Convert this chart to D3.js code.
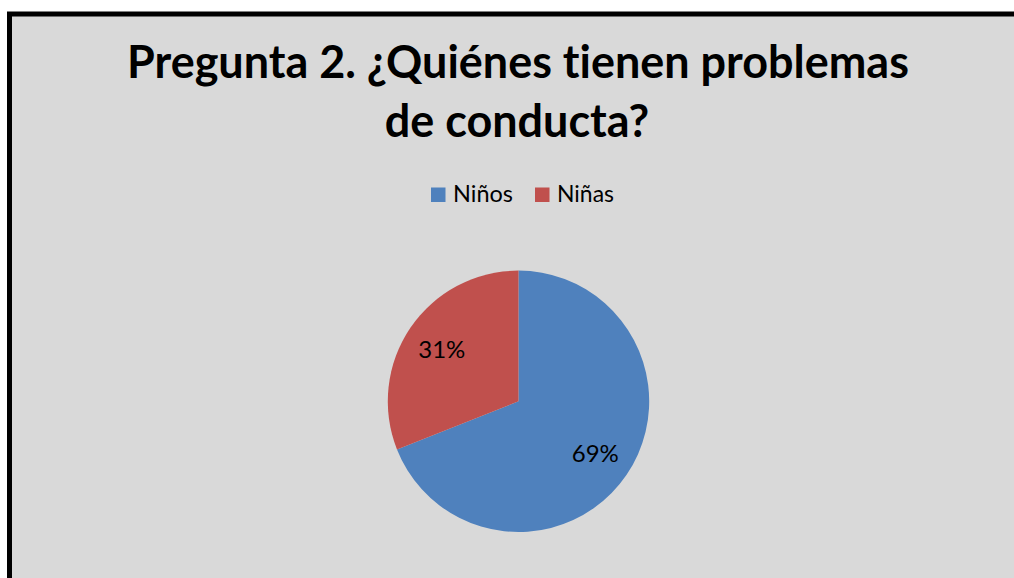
<!DOCTYPE html>
<html><head><meta charset="utf-8">
<script src="https://cdn.jsdelivr.net/npm/d3@7"></script>
<style>html,body{margin:0;padding:0;background:#fff;overflow:hidden} text{font-variant-ligatures:none;font-feature-settings:"liga" 0}</style>
</head><body>
<svg id="c" width="1014" height="578"></svg>
<script>
const categories = ["Niños", "Niñas"];
const values = [69, 31];
const labels = ["69%", "31%"];
const colors = ["#4f81bd", "#c0504d"];
const titleLines = ["Pregunta 2. ¿Quiénes tienen problemas", "de conducta?"];

const svg = d3.select("#c");
svg.append("rect").attr("x", 9.5).attr("y", 14).attr("width", 1030).attr("height", 620)
  .attr("fill", "#d9d9d9").attr("stroke", "#000").attr("stroke-width", 5);

const font = "Lato, 'Open Sans', sans-serif";

function fit(sel, target) {
  const w = sel.node().getComputedTextLength();
  const fs = parseFloat(sel.attr("font-size"));
  sel.attr("font-size", fs * target / w);
}

// Title
const t1 = svg.append("text").attr("x", 518).attr("y", 78).attr("text-anchor", "middle")
  .attr("font-family", font).attr("font-weight", "bold").attr("font-size", 40).attr("fill", "#000")
  .text(titleLines[0]);
fit(t1, 782);
const t2 = svg.append("text").attr("x", 517).attr("y", 137).attr("text-anchor", "middle")
  .attr("font-family", font).attr("font-weight", "bold").attr("font-size", t1.attr("font-size")).attr("fill", "#000")
  .text(titleLines[1]);

// Legend
const legendX = [431, 535];
const legW = [60, 57];
categories.forEach((c, i) => {
  svg.append("rect").attr("x", legendX[i]).attr("y", 187.5).attr("width", 14.5).attr("height", 14.5).attr("fill", colors[i]);
  const t = svg.append("text").attr("x", legendX[i] + 22).attr("y", 201.5).attr("font-family", font)
    .attr("font-size", 22).attr("fill", "#000").text(c);
  fit(t, legW[i]);
});

// Pie
const cx = 518.5, cy = 401.3, r = 130.7;
const pie = d3.pie().sort(null).value(d => d)(values);
const arc = d3.arc().innerRadius(0).outerRadius(r);
const labelArc = d3.arc().innerRadius(r * 0.71).outerRadius(r * 0.71);
const g = svg.append("g").attr("transform", `translate(${cx},${cy})`);
g.selectAll("path").data(pie).join("path").attr("d", arc).attr("fill", (d, i) => colors[i]);
g.selectAll("text").data(pie).join("text")
  .attr("transform", d => `translate(${labelArc.centroid(d)})`)
  .attr("text-anchor", "middle").attr("dy", "0.36em")
  .attr("font-family", font).attr("font-size", 24).attr("fill", "#000")
  .text((d, i) => labels[i]);
</script>
</body></html>
